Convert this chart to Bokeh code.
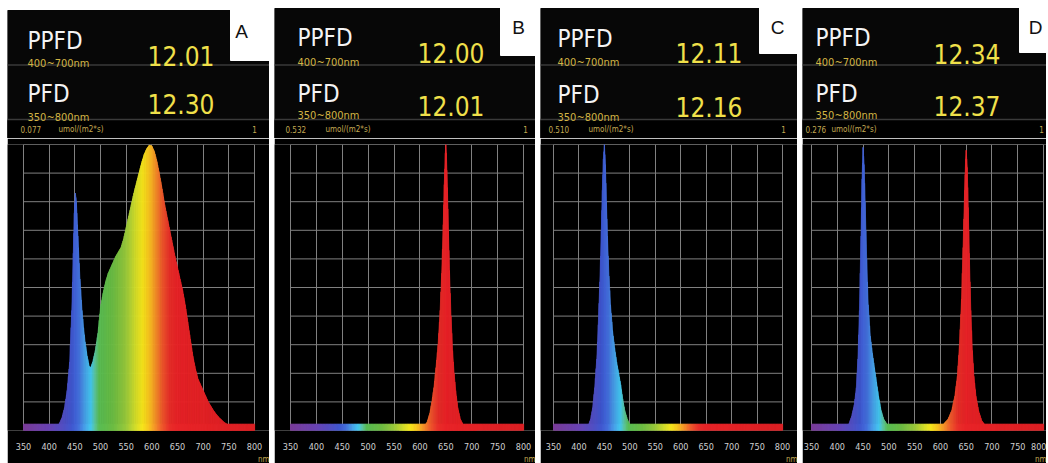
import numpy as np
from bokeh.plotting import figure
from bokeh.layouts import row, column
from bokeh.models import Range1d, FixedTicker, Title, ColumnDataSource
from bokeh.core.properties import value
from bokeh.embed import file_html
from bokeh.resources import INLINE

# ---------------- data ----------------
panel_letters = ["A", "B", "C", "D"]
ppfd_label = "PPFD"
pfd_label = "PFD"
ppfd_band = "400~700nm"
pfd_band = "350~800nm"
ppfd_values = ["12.01", "12.00", "12.11", "12.34"]
pfd_values = ["12.30", "12.01", "12.16", "12.37"]
peak_values = ["0.077", "0.532", "0.510", "0.276"]
unit_text = "umol/(m2*s)"
scale_top_text = "1"
unit_nm = "nm"
wavelength_ticks = [350, 400, 450, 500, 550, 600, 650, 700, 750, 800]
intensity_ticks = [0.0, 0.1, 0.2, 0.3, 0.4, 0.5, 0.6, 0.7, 0.8, 0.9, 1.0]

# Spectrum A (white LED)
spec_a_wl = [350, 380, 400, 410, 415, 420, 425, 430, 435, 440,
             444, 447, 449, 451, 453, 455, 457, 460, 464, 467,
             470, 474, 478, 481, 485, 490, 495, 500, 505, 510,
             515, 520, 525, 530, 535, 540, 545, 550, 555, 560,
             565, 570, 575, 580, 585, 590, 595, 600, 605, 610,
             615, 620, 625, 630, 635, 640, 645, 650, 655, 660,
             665, 670, 675, 680, 685, 690, 695, 700, 705, 710,
             715, 720, 725, 730, 740, 750, 760, 770, 780, 790,
             800]
spec_a_val = [0, 0.002, 0.005, 0.01, 0.015, 0.025, 0.045, 0.08, 0.14, 0.24,
              0.42, 0.62, 0.76, 0.83, 0.8, 0.72, 0.64, 0.53, 0.42, 0.36,
              0.31, 0.26, 0.225, 0.22, 0.24, 0.28, 0.34, 0.43, 0.48, 0.52,
              0.55, 0.57, 0.59, 0.61, 0.625, 0.64, 0.67, 0.71, 0.75, 0.79,
              0.83, 0.865, 0.9, 0.935, 0.965, 0.985, 0.998, 0.995, 0.975, 0.94,
              0.895, 0.845, 0.79, 0.745, 0.7, 0.655, 0.61, 0.57, 0.53, 0.49,
              0.44, 0.38, 0.32, 0.26, 0.215, 0.18, 0.16, 0.14, 0.12, 0.1,
              0.085, 0.07, 0.058, 0.047, 0.03, 0.018, 0.01, 0.006, 0.003, 0.0015,
              0.001]

# Spectrum B (red LED)
spec_b_wl = [560, 590, 600, 608, 614, 619, 623, 627, 631, 635,
             639, 642, 645, 647, 649, 650, 651, 653, 655, 657,
             660, 663, 666, 669, 673, 678, 685, 695, 710]
spec_b_val = [0, 0.002, 0.006, 0.014, 0.03, 0.06, 0.1, 0.15, 0.22, 0.3,
              0.42, 0.55, 0.72, 0.86, 0.97, 1.0, 0.97, 0.85, 0.7, 0.56,
              0.4, 0.28, 0.2, 0.14, 0.08, 0.04, 0.015, 0.005, 0]

# Spectrum C (blue LED)
spec_c_wl = [395, 410, 418, 423, 427, 431, 435, 438, 441, 444,
             446, 448, 450, 452, 454, 456, 459, 462, 466, 470,
             474, 478, 482, 486, 490, 495, 500, 510, 525]
spec_c_val = [0, 0.003, 0.015, 0.04, 0.08, 0.15, 0.25, 0.37, 0.52, 0.7,
              0.84, 0.95, 1.0, 0.93, 0.8, 0.68, 0.54, 0.44, 0.35, 0.29,
              0.24, 0.2, 0.16, 0.11, 0.07, 0.04, 0.02, 0.006, 0]

# Spectrum D (blue + red LED)
spec_d_blue_wl = [400, 415, 422, 428, 433, 437, 440, 443, 446, 448,
                  450, 452, 454, 457, 460, 464, 468, 472, 476, 480,
                  485, 490, 497, 505, 520]
spec_d_blue_val = [0, 0.005, 0.02, 0.05, 0.09, 0.15, 0.25, 0.42, 0.68, 0.88,
                   0.99, 0.93, 0.8, 0.6, 0.44, 0.33, 0.27, 0.22, 0.17, 0.12,
                   0.07, 0.04, 0.02, 0.008, 0]
spec_d_red_wl = [580, 595, 605, 615, 622, 628, 633, 637, 641, 644,
                 647, 649, 650, 652, 654, 656, 659, 662, 665, 669,
                 674, 680, 688, 700, 715]
spec_d_red_val = [0, 0.008, 0.02, 0.04, 0.07, 0.12, 0.19, 0.3, 0.46, 0.64,
                  0.84, 0.95, 0.98, 0.92, 0.78, 0.62, 0.42, 0.28, 0.19, 0.12,
                  0.07, 0.035, 0.015, 0.004, 0]

spectra = [
    [(spec_a_wl, spec_a_val)],
    [(spec_b_wl, spec_b_val)],
    [(spec_c_wl, spec_c_val)],
    [(spec_d_blue_wl, spec_d_blue_val), (spec_d_red_wl, spec_d_red_val)],
]

# ---------------- style ----------------
NARROW = "DejaVu Sans Condensed, Roboto"
PLAIN = "Liberation Sans"
GRID_COLOR = "#808080"
WHITE_TEXT = "#f4f4f4"
GOLD_SMALL = "#d2b444"
GOLD_VALUE = "#f0e04a"
GOLD_ROW3 = "#c4aa52"
HEADER_BLACK = "#070707"
SEP_COLOR = "#3a3a3a"

COLOR_STOPS = [(350, "#7a3c98"), (400, "#6a44b4"), (430, "#5050c4"), (445, "#4058d0"),
               (458, "#4470dc"), (470, "#48a0e8"), (482, "#44c8f0"), (490, "#5cc49c"),
               (498, "#58bc54"), (525, "#6cbc44"), (550, "#98c83c"), (568, "#d0dc2c"),
               (582, "#f6e61c"), (595, "#f8c420"), (607, "#f49428"), (620, "#ee5c2c"),
               (635, "#e8302a"), (650, "#e82428"), (800, "#dc2024")]

_stop_wl = np.array([s[0] for s in COLOR_STOPS], dtype=float)
_stop_rgb = np.array([[int(s[1][k:k + 2], 16) for k in (1, 3, 5)] for s in COLOR_STOPS], dtype=float)


def spectral_color(wl):
    r, g, b = (np.interp(wl, _stop_wl, _stop_rgb[:, k]) for k in range(3))
    return "#%02x%02x%02x" % (int(round(r)), int(round(g)), int(round(b)))


# panel geometry (x: px from panel's left edge, y: px from window top)
PANELS = [
    dict(width=262, top=10, notch_left=223, notch_bottom=60, label_x=20, value_x=140, letter_xy=(234, 31),
         ppfd_base=40, band1_base=63, val1_base=55, pfd_base=93, band2_base=117, val2_base=103,
         row3=(13, 51, 247), ml=16, mr=15),
    dict(width=261, top=8, notch_left=226, notch_bottom=55, label_x=23, value_x=143, letter_xy=(244, 27),
         ppfd_base=37, band1_base=62, val1_base=52, pfd_base=93, band2_base=115, val2_base=105,
         row3=(11, 51, 251), ml=16, mr=12),
    dict(width=257, top=8, notch_left=219, notch_bottom=53, label_x=17, value_x=135, letter_xy=(237, 27),
         ppfd_base=38, band1_base=62, val1_base=52, pfd_base=94, band2_base=117, val2_base=106,
         row3=(8, 48, 243), ml=13, mr=15),
    dict(width=244, top=8, notch_left=217, notch_bottom=52, label_x=13, value_x=131, letter_xy=(233, 27),
         ppfd_base=37, band1_base=62, val1_base=53, pfd_base=93, band2_base=115, val2_base=105,
         row3=(3, 29, 239), ml=9, mr=3),
]

HEADER_H = 138
PLOT_H = 325
ROW3_Y = 129


def txt(fig, x, y, s, font, size, color, align="left", baseline="alphabetic"):
    fig.text(x=[x], y=[y], text=[s], text_font=value(font), text_font_size=value(size),
             text_color=color, text_align=align, text_baseline=baseline)


def make_header(i):
    c = PANELS[i]
    W = c["width"]
    h = figure(width=W, height=HEADER_H, x_range=Range1d(0, W), y_range=Range1d(HEADER_H, 0),
               toolbar_location=None, output_backend="svg", x_axis_type=None, y_axis_type=None,
               min_border=0, background_fill_color="white", border_fill_color="white",
               outline_line_color=None)
    h.grid.visible = False
    h.quad(left=[0], right=[W], top=[c["top"]], bottom=[HEADER_H], color=HEADER_BLACK)
    h.quad(left=[c["notch_left"]], right=[W], top=[0], bottom=[c["notch_bottom"]], color="white")
    h.quad(left=[0], right=[W], top=[120], bottom=[HEADER_H], color="black")
    h.segment(x0=[0, 0], x1=[W, W], y0=[64.5, 119], y1=[64.5, 119], line_color=SEP_COLOR, line_width=1.5)
    lx, vx = c["label_x"], c["value_x"]
    txt(h, lx, c["ppfd_base"], ppfd_label, NARROW, "24px", WHITE_TEXT)
    txt(h, lx, c["band1_base"], ppfd_band, NARROW, "11px", GOLD_SMALL)
    txt(h, vx, c["val1_base"], ppfd_values[i], NARROW, "26px", GOLD_VALUE)
    txt(h, lx, c["pfd_base"], pfd_label, NARROW, "24px", WHITE_TEXT)
    txt(h, lx, c["band2_base"], pfd_band, NARROW, "11px", GOLD_SMALL)
    txt(h, vx, c["val2_base"], pfd_values[i], NARROW, "26px", GOLD_VALUE)
    ltx, lty = c["letter_xy"]
    txt(h, ltx, lty, panel_letters[i], PLAIN, "19px", "#111111", align="center", baseline="middle")
    r0, r1, r2 = c["row3"]
    txt(h, r0, ROW3_Y, peak_values[i], NARROW, "8px", GOLD_ROW3, baseline="middle")
    txt(h, r1, ROW3_Y, unit_text, NARROW, "8px", GOLD_ROW3, baseline="middle")
    txt(h, r2, ROW3_Y, scale_top_text, NARROW, "8px", GOLD_ROW3, align="center", baseline="middle")
    return h


def spectrum_source(wl, val, step=1.5):
    xs, ys, cs = [], [], []
    for k in range(len(wl) - 1):
        x0, x1, y0, y1 = wl[k], wl[k + 1], val[k], val[k + 1]
        if y0 <= 0 and y1 <= 0:
            continue
        n = max(1, int(np.ceil((x1 - x0) / step)))
        for j in range(n):
            a = x0 + (x1 - x0) * j / n
            b = x0 + (x1 - x0) * (j + 1) / n
            ya = y0 + (y1 - y0) * j / n
            yb = y0 + (y1 - y0) * (j + 1) / n
            xs.append([a, a, b, b])
            ys.append([0, ya, yb, 0])
            cs.append(spectral_color((a + b) / 2))
    return ColumnDataSource(dict(xs=xs, ys=ys, color=cs))


def make_plot(i):
    c = PANELS[i]
    W = c["width"]
    lo, hi = wavelength_ticks[0], wavelength_ticks[-1]
    k = (hi - lo) / (W - c["ml"] - c["mr"])
    p = figure(width=W, height=PLOT_H, x_range=Range1d(lo - c["ml"] * k, hi + c["mr"] * k),
               y_range=Range1d(0, 1),
               toolbar_location=None, output_backend="svg", y_axis_type=None,
               min_border_left=0, min_border_right=0, min_border_top=6, min_border_bottom=26,
               background_fill_color="black", border_fill_color="black", outline_line_color=None)
    ax = p.xaxis[0]
    ax.ticker = FixedTicker(ticks=wavelength_ticks)
    ax.axis_line_color = None
    ax.major_tick_line_color = None
    ax.minor_tick_line_color = None
    ax.major_label_text_color = "#d0d0d0"
    ax.major_label_text_font = NARROW
    ax.major_label_text_font_size = "9px"
    ax.major_label_standoff = 6
    p.xgrid.ticker = FixedTicker(ticks=wavelength_ticks)
    p.xgrid.grid_line_color = GRID_COLOR
    # horizontal grid lines limited to the 350-800 nm span
    p.segment(x0=[lo] * len(intensity_ticks), x1=[hi] * len(intensity_ticks),
              y0=intensity_ticks, y1=intensity_ticks, line_color=GRID_COLOR, line_width=1)

    for wl, val in spectra[i]:
        src = spectrum_source(wl, val)
        p.patches("xs", "ys", source=src, fill_color="color", line_color="color", line_width=0.6)

    # wavelength colour strip along the baseline
    strip_left = np.arange(lo, hi, 3.0)
    strip = ColumnDataSource(dict(left=strip_left, right=strip_left + 3.2,
                                  color=[spectral_color(w + 1.5) for w in strip_left]))
    p.quad(left="left", right="right", bottom=0, top=0.022, color="color", source=strip)

    p.add_layout(Title(text=unit_nm, align="right", text_font_size="8px", text_color=GOLD_ROW3,
                       text_font=NARROW, text_font_style="normal", standoff=0), "below")
    return p


panels = [column(make_header(i), make_plot(i), spacing=0) for i in range(4)]
layout = row(*panels, spacing=5)
layout.margin = (0, 0, 0, 7)

open("out.html", "w").write(file_html(layout, INLINE))
